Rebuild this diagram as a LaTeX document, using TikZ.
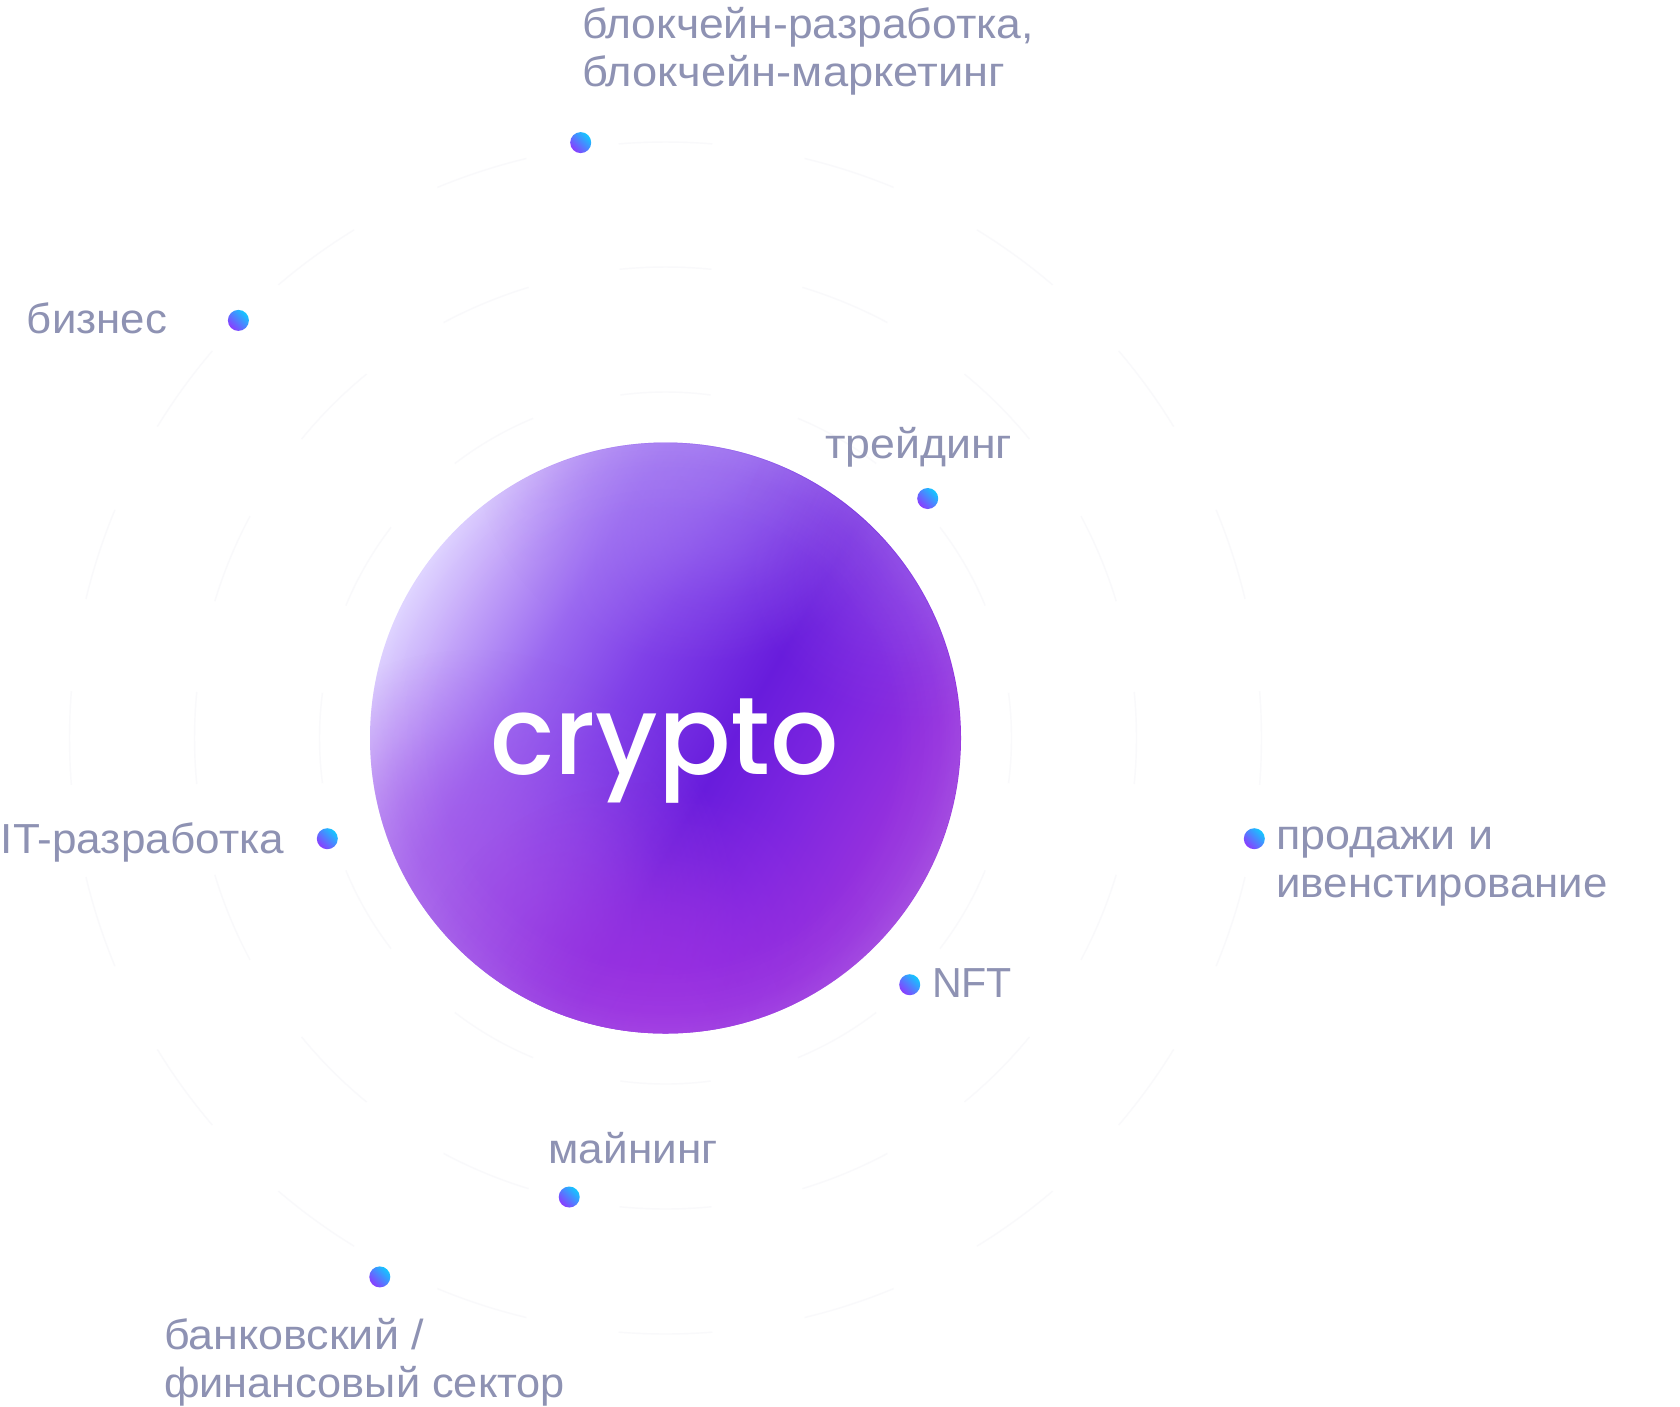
\documentclass[tikz,border=0pt]{standalone}
\usepackage{graphicx}
\usepackage{fontspec}
\setmainfont{Liberation Sans}
\newfontfamily\logofont{Poppins Medium}
\usetikzlibrary{fadings}
\definecolor{labelcol}{HTML}{8E92B3}
\definecolor{ringcol}{HTML}{F9F9FB}
\definecolor{dotA}{HTML}{8A3CFF}
\definecolor{dotB}{HTML}{12C8FF}
\definecolor{sA}{HTML}{DCD0FF}
\definecolor{sB}{HTML}{C4A6F9}
\definecolor{sC}{HTML}{9A68F0}
\definecolor{sD}{HTML}{8040E8}
\definecolor{sE}{HTML}{681CDC}
\definecolor{sF}{HTML}{7E26E0}
\definecolor{sG}{HTML}{9430DE}
\definecolor{sH}{HTML}{9C3CDE}
\pgfdeclarehorizontalshading{spherebase}{100bp}{
 color(0bp)=(sA);
 color(25bp)=(sA);
 color(30bp)=(sB);
 color(37.5bp)=(sC);
 color(45bp)=(sD);
 color(55bp)=(sE);
 color(62.5bp)=(sF);
 color(70bp)=(sG);
 color(75bp)=(sH);
 color(100bp)=(sH)}
\pgfdeclareradialshading{softshade}{\pgfpointorigin}{
 color(0bp)=(white);
 color(6bp)=(black!12);
 color(12bp)=(black!40);
 color(18bp)=(black!75);
 color(25bp)=(black);
 color(50bp)=(black)}
\pgfdeclarefading{softblob}{\pgfuseshading{softshade}}
\pgfdeclareradialshading{rimshade}{\pgfpointorigin}{
 color(0bp)=(black);
 color(19bp)=(black);
 color(23bp)=(black!70);
 color(25bp)=(black!35);
 color(50bp)=(black!35)}
\pgfdeclarefading{rimfade}{\pgfuseshading{rimshade}}
\tikzset{
 x=1pt,y=1pt,
 lbl/.style={anchor=base west,inner sep=0pt,outer sep=0pt,text=labelcol,align=left,
   font=\fontsize{42}{48}\selectfont},
 dotnode/.style={circle,minimum size=21pt,inner sep=0pt,outer sep=0pt,
   top color=dotB,bottom color=dotA,shading angle=-45},
 ring/.style={draw=ringcol,line width=1.4pt,fill=none},
}
\newcommand{\fitw}[2]{\resizebox{#1pt}{\height}{#2}}
\newcommand{\blob}[5]{% cx cy r colour opacity (u,v units of sphere radius)
 \fill[#4,opacity=#5,path fading=softblob]
   ({665.5+295.5*(#1)},{-738-(-295.5*(#2))}) circle ({295.5*(#3)});}
\begin{document}
\begin{tikzpicture}
\useasboundingbox (0,0) rectangle (1680,-1406);
\fill[white] (0,0) rectangle (1680,-1406);
\coordinate (c) at (665.5,-738);
% rings
\foreach \a in {0,18,...,342}
  \draw[ring] ([shift={(c)}]\a-4.5:596) arc[start angle=\a-4.5,end angle=\a+4.5,radius=596];
\foreach \a in {0,22.5,...,337.5}
  \draw[ring] ([shift={(c)}]\a-5.6:471) arc[start angle=\a-5.6,end angle=\a+5.6,radius=471];
\foreach \a in {0,30,...,330}
  \draw[ring] ([shift={(c)}]\a-7.5:346) arc[start angle=\a-7.5,end angle=\a+7.5,radius=346];
% sphere
\node[circle,minimum size=591pt,inner sep=0pt,outer sep=0pt] (sphere) at (c) {};
\begin{scope}
 \clip (c) circle (295.5);
 \shade[shading=spherebase,shading angle=-30] (c) circle (295.5);
 \definecolor{bA}{HTML}{A858E8}\definecolor{bB}{HTML}{9C30E0}\definecolor{bC}{HTML}{A57EF2}\definecolor{bD}{HTML}{9A5CEA}
 \blob{-0.65}{-0.6}{0.9}{bA}{0.75}
 \blob{-0.05}{-1.0}{0.85}{bB}{0.95}
 \blob{0.1}{1.0}{0.75}{bC}{0.65}
 \blob{0.85}{0.65}{0.6}{bD}{0.5}
 \fill[white,opacity=0.14,path fading=rimfade] (c) circle (295.5);
\end{scope}
\node[anchor=base,inner sep=0pt,text=white,font=\logofont\fontsize{110}{110}\selectfont] (logo) at (664.8,-774) {\fitw{349}{crypto}};
% dots
\node[dotnode] (d1) at (580.7,-142.6) {};
\node[dotnode] (d2) at (238.4,-320.4) {};
\node[dotnode] (d3) at (927.7,-498.5) {};
\node[dotnode] (d4) at (327.3,-838.7) {};
\node[dotnode] (d5) at (1254.3,-838.7) {};
\node[dotnode] (d6) at (909.7,-984.7) {};
\node[dotnode] (d7) at (569.2,-1197) {};
\node[dotnode] (d8) at (379.8,-1276.9) {};
% labels
\node[lbl] (t1) at (582,-86.7) {\fitw{452}{блокчейн-разработка,}\\\fitw{423}{блокчейн-маркетинг}};
\node[lbl] (t2) at (27,-333) {\fitw{140}{бизнес}};
\node[lbl] (t3) at (825,-458) {\fitw{187}{трейдинг}};
\node[lbl] (t4) at (1,-853.3) {\fitw{283}{IT-разработка}};
\node[lbl] (t5) at (1276.5,-897.3) {\fitw{217}{продажи и}\\\fitw{331}{ивенстирование}};
\node[lbl] (t6) at (932,-997.3) {\fitw{80}{NFT}};
\node[lbl] (t7) at (548.5,-1163.5) {\fitw{169}{майнинг}};
\node[lbl] (t8) at (164,-1397) {\fitw{260}{банковский /}\\\fitw{401}{финансовый сектор}};
\end{tikzpicture}
\end{document}
